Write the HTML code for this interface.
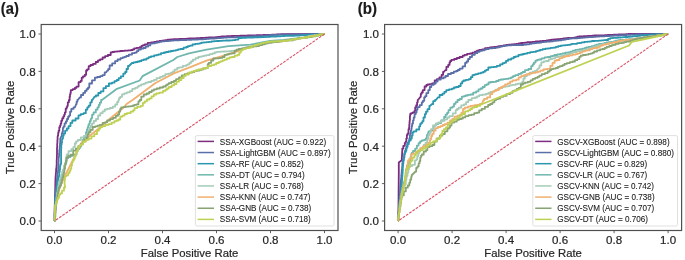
<!DOCTYPE html><html><head><meta charset="utf-8"><style>html,body{margin:0;padding:0;background:#fff;width:685px;height:260px;overflow:hidden}svg{display:block}text{font-family:"Liberation Sans",sans-serif;stroke:currentColor;stroke-width:0.2px}svg{will-change:transform}</style></head><body>
<svg width="685" height="260" viewBox="0 0 685 260">
<rect width="685" height="260" fill="#fff"/>
<polyline points="54.5,221.0 54.8,205.0 55.2,190.0 55.5,178.0 56.0,172.0 56.1,172.0 56.1,169.4 56.2,169.4 56.2,168.4 56.5,168.4 56.5,165.6 56.7,165.6 56.7,163.2 56.7,163.2 56.7,163.2 56.7,159.8 56.8,159.8 56.8,157.6 56.9,157.6 56.9,154.8 57.0,154.8 57.0,151.2 57.0,151.2 57.0,148.1 57.1,148.1 57.1,147.0 57.2,147.0 57.2,145.6 57.2,145.6 57.2,143.9 57.3,143.9 57.3,142.9 57.4,142.9 57.4,139.8 57.4,139.8 57.6,139.8 57.6,136.6 57.9,136.6 57.9,135.3 58.2,135.3 58.2,132.7 58.6,132.7 58.6,130.7 58.8,130.7 59.3,130.7 59.3,127.1 60.1,127.1 60.1,125.3 60.7,125.3 60.7,123.4 61.0,123.4 61.3,123.4 61.3,120.7 62.2,120.7 62.2,118.4 63.3,118.4 63.3,116.4 64.2,116.4 64.2,114.6 64.6,114.6 64.9,114.6 64.9,112.3 65.7,112.3 65.7,108.7 66.6,108.7 66.6,107.1 67.3,107.1 67.3,105.8 67.5,105.8 67.8,105.8 67.8,102.3 68.9,102.3 68.9,100.0 69.7,100.0 69.6,96.7 70.0,96.7 70.0,94.6 70.4,94.6 70.4,93.0 70.8,93.0 70.8,90.1 71.1,90.1 72.7,90.1 72.7,89.2 74.9,89.2 74.9,87.9 75.5,87.9 76.4,87.9 76.4,86.6 78.6,86.6 78.6,82.1 79.9,82.1 80.6,82.1 80.6,80.9 81.7,80.9 81.7,77.7 82.0,77.7 83.0,77.7 83.0,76.4 84.8,76.4 84.8,74.8 86.1,74.8 86.1,70.5 86.5,70.5 87.2,70.5 87.2,69.3 88.7,69.3 88.7,66.2 89.5,66.2 90.5,66.2 90.5,65.0 93.0,65.0 93.0,63.9 95.7,63.9 95.7,62.0 96.9,62.0 98.0,62.0 98.0,60.4 100.0,60.4 100.0,59.3 102.6,59.3 102.6,57.5 104.2,57.5 105.1,57.5 105.1,56.2 107.9,56.2 107.9,55.0 110.7,55.0 110.7,52.3 111.5,52.3 112.4,52.3 112.4,52.0 114.2,52.0 114.2,51.7 116.9,51.7 116.9,51.3 120.1,51.3 120.1,51.0 122.4,51.0 122.4,50.9 123.2,50.9 124.5,50.9 124.5,50.6 128.1,50.6 128.1,50.3 131.2,50.3 131.2,50.0 132.8,50.0 132.8,49.4 133.5,49.4 134.2,49.4 134.2,48.4 136.7,48.4 136.7,47.9 139.7,47.9 139.7,47.2 140.8,47.2 141.5,47.2 141.5,45.8 143.0,45.8 143.0,45.2 144.8,45.2 144.8,44.3 147.7,44.3 147.7,42.8 149.6,42.8 151.1,42.8 151.1,42.4 154.1,42.4 154.1,42.0 156.7,42.0 156.7,41.5 159.5,41.5 159.5,40.9 161.9,40.9 161.9,40.6 162.7,40.6 163.7,40.6 163.7,40.4 165.3,40.4 165.3,40.1 167.5,40.1 167.5,39.6 170.5,39.6 170.5,39.3 173.5,39.3 173.5,39.2 175.1,39.2 176.5,39.2 176.5,39.1 179.4,39.1 179.4,39.0 181.5,39.0 181.5,38.9 183.9,38.9 183.9,38.8 186.6,38.8 186.6,38.7 188.9,38.7 188.9,38.5 191.9,38.5 191.9,38.5 194.3,38.5 194.3,38.4 196.3,38.4 196.3,38.2 198.4,38.2 198.4,38.1 199.2,38.1 200.2,38.1 200.2,38.0 202.6,38.0 202.6,37.8 205.4,37.8 205.4,37.6 208.6,37.6 208.6,37.5 211.7,37.5 211.7,37.4 214.0,37.4 214.0,37.3 215.7,37.3 215.7,37.1 217.8,37.1 217.8,36.9 220.2,36.9 220.2,36.7 221.9,36.7 221.9,36.5 223.7,36.5 223.7,36.4 226.7,36.4 226.7,36.2 228.5,36.2 229.2,36.2 229.2,36.1 231.5,36.1 231.5,36.0 233.6,36.0 233.6,35.9 235.7,35.9 235.7,35.9 238.0,35.9 238.0,35.9 240.0,35.9 240.0,35.7 242.5,35.7 242.5,35.7 245.0,35.7 245.0,35.6 247.5,35.6 247.5,35.5 250.1,35.5 250.1,35.5 253.1,35.5 253.1,35.3 256.4,35.3 256.4,35.2 259.2,35.2 259.2,35.1 261.3,35.1 261.3,35.1 263.4,35.1 263.4,35.0 265.1,35.0 265.1,34.9 268.0,34.9 268.0,34.8 270.0,34.8 271.7,34.8 271.7,34.7 274.3,34.7 274.3,34.6 276.3,34.6 276.3,34.5 278.9,34.5 278.9,34.4 280.9,34.4 280.9,34.2 282.8,34.2 282.8,34.1 284.0,34.1 324.5,34.0" fill="none" stroke="#7b2d80" stroke-width="1.8" stroke-linejoin="round"/>
<polyline points="54.5,221.0 55.0,200.0 55.1,200.0 55.1,197.9 55.3,197.9 55.3,196.4 55.6,196.4 55.6,194.6 55.8,194.6 55.8,191.7 56.0,191.7 56.0,187.7 56.3,187.7 56.3,186.3 56.5,186.3 56.5,183.0 56.8,183.0 56.8,180.0 57.0,180.0 57.1,180.0 57.1,177.2 57.3,177.2 57.3,174.4 57.5,174.4 57.5,172.5 58.0,172.5 58.0,170.5 58.2,170.5 58.3,170.5 58.3,167.4 58.4,167.4 58.4,165.5 58.5,165.5 58.5,162.2 58.6,162.2 58.6,158.5 58.7,158.5 58.7,157.4 58.9,157.4 58.9,155.8 59.1,155.8 59.1,153.1 59.3,153.1 59.3,150.3 59.5,150.3 59.5,148.6 59.6,148.6 59.7,148.6 59.7,146.4 60.0,146.4 60.0,143.5 60.2,143.5 60.2,140.8 60.3,140.8 60.3,138.4 60.4,138.4 61.5,136.0 61.8,136.0 61.8,133.6 62.3,133.6 62.3,132.0 62.9,132.0 62.9,127.8 63.2,127.8 63.6,127.8 63.6,126.4 64.6,126.4 64.6,123.4 65.9,123.4 65.9,121.3 67.0,121.3 67.0,119.0 67.5,119.0 68.1,119.0 68.1,116.7 69.2,116.7 69.2,115.4 70.1,115.4 70.1,111.7 70.5,111.7 71.3,111.7 71.3,108.9 73.5,108.9 73.5,107.3 74.9,107.3 76.2,104.0 76.6,104.0 76.6,101.7 77.4,101.7 77.4,100.0 77.8,100.0 79.9,97.4 81.0,97.4 81.0,95.0 83.2,95.0 83.2,92.9 85.0,92.9 85.0,90.9 85.7,90.9 86.6,90.9 86.6,89.2 88.0,89.2 88.0,87.7 89.3,87.7 89.3,83.5 90.1,83.5 92.0,83.5 92.0,80.3 94.9,80.3 94.9,77.7 95.9,77.7 97.2,77.7 97.2,77.0 100.2,77.0 100.2,76.1 101.8,76.1 102.5,76.1 102.5,75.1 104.7,75.1 104.7,72.4 106.2,72.4 107.2,70.6 108.1,70.6 108.1,69.2 109.6,69.2 109.6,65.5 110.1,65.5 112.2,65.5 112.2,63.4 115.1,63.4 115.1,61.1 115.9,61.1 117.6,61.1 117.6,59.5 120.5,59.5 120.5,58.2 121.8,58.2 122.7,58.2 122.7,57.4 124.5,57.4 124.5,56.8 126.3,56.8 126.3,56.0 128.8,56.0 128.8,54.6 132.0,54.6 132.0,53.1 133.5,53.1 134.8,53.1 134.8,52.6 136.7,52.6 136.7,51.1 138.4,51.1 138.4,49.6 140.9,49.6 140.9,48.7 142.3,48.7 143.3,48.7 143.3,48.0 145.6,48.0 145.6,46.5 148.2,46.5 148.2,45.4 150.3,45.4 150.3,43.6 151.0,43.6 152.4,43.6 152.4,43.4 154.7,43.4 154.7,42.9 156.9,42.9 156.9,42.3 159.2,42.3 159.2,41.8 161.4,41.8 161.4,41.4 162.7,41.4 164.3,41.4 164.3,41.2 167.1,41.2 167.1,41.1 168.6,41.1 168.6,40.9 170.5,40.9 170.5,40.6 173.4,40.6 173.4,40.4 175.1,40.4 176.5,40.4 176.5,40.3 179.5,40.3 179.5,40.2 182.2,40.2 182.2,40.1 184.5,40.1 184.5,40.0 186.5,40.0 186.5,39.9 188.8,39.9 188.8,39.8 191.7,39.8 191.7,39.7 194.0,39.7 194.0,39.6 195.7,39.6 195.7,39.5 197.8,39.5 197.8,39.4 199.2,39.4 200.6,39.4 200.6,39.3 203.5,39.3 203.5,39.1 206.3,39.1 206.3,38.9 208.8,38.9 208.8,38.7 211.6,38.7 211.6,38.5 214.9,38.5 214.9,38.3 217.1,38.3 217.1,38.1 218.5,38.1 218.5,38.0 221.0,38.0 221.0,37.8 223.4,37.8 223.4,37.7 225.0,37.7 225.0,37.5 227.1,37.5 227.1,37.4 228.5,37.4 229.2,37.4 229.2,37.4 231.9,37.4 231.9,37.3 235.7,37.3 235.7,37.2 238.1,37.2 238.1,37.0 239.6,37.0 239.6,36.9 242.2,36.9 242.2,36.9 244.2,36.9 244.2,36.8 246.1,36.8 246.1,36.7 248.7,36.7 248.7,36.6 250.0,36.6 251.2,36.6 251.2,36.4 254.1,36.4 254.1,36.2 257.5,36.2 257.5,36.1 261.0,36.1 261.0,36.0 263.5,36.0 263.5,35.8 264.9,35.8 264.9,35.6 266.2,35.6 266.2,35.4 267.6,35.4 267.6,35.3 269.3,35.3 269.3,35.1 270.9,35.1 270.9,35.0 272.9,35.0 272.9,34.9 275.0,34.9 275.0,34.8 277.8,34.8 277.8,34.7 281.8,34.7 281.8,34.6 284.0,34.6 285.0,34.6 285.0,34.6 287.6,34.6 287.6,34.5 290.2,34.5 290.2,34.5 291.7,34.5 291.7,34.5 293.6,34.5 293.6,34.4 295.8,34.4 295.8,34.4 297.5,34.4 297.5,34.4 300.0,34.4 300.0,34.3 303.1,34.3 303.1,34.3 305.2,34.3 305.2,34.3 307.8,34.3 307.8,34.2 311.5,34.2 311.5,34.2 313.9,34.2 313.9,34.1 315.7,34.1 315.7,34.1 318.2,34.1 318.2,34.1 321.2,34.1 321.2,34.0 323.8,34.0 323.8,34.0 324.5,34.0" fill="none" stroke="#5a6fa8" stroke-width="1.8" stroke-linejoin="round"/>
<polyline points="54.5,221.0 54.6,221.0 54.6,217.7 54.7,217.7 54.7,215.6 54.7,215.6 54.7,213.9 54.8,213.9 54.8,212.1 54.9,212.1 54.9,210.2 55.0,210.2 55.0,207.0 55.2,207.0 55.2,205.1 55.3,205.1 55.3,201.7 55.4,201.7 55.4,200.0 55.5,200.0 55.7,200.0 55.7,196.7 55.9,196.7 55.9,194.9 56.1,194.9 56.1,192.0 56.5,192.0 56.5,189.5 56.8,189.5 56.8,187.2 57.2,187.2 57.2,184.7 57.5,184.7 57.5,181.5 57.8,181.5 57.8,180.0 58.0,180.0 58.4,180.0 58.4,176.8 59.0,176.8 59.0,175.4 59.3,175.4 59.3,172.0 59.6,172.0 59.7,172.0 59.7,169.7 60.0,169.7 60.0,166.1 60.4,166.1 60.4,164.3 60.9,164.3 60.9,163.2 61.1,163.2 61.1,148.6 61.3,148.6 61.3,144.3 61.7,144.3 61.7,142.8 62.0,142.8 62.0,139.6 62.3,139.6 62.3,138.4 62.5,138.4 63.0,138.4 63.0,135.7 63.7,135.7 63.7,133.6 63.9,133.6 65.1,133.6 65.1,130.7 66.9,130.7 66.9,128.5 67.5,128.5 68.6,128.5 68.6,126.1 70.5,126.1 70.5,122.9 72.3,122.9 72.3,120.5 73.4,120.5 75.6,120.5 75.6,118.5 78.5,118.5 78.5,115.4 79.2,115.4 80.7,115.4 80.7,114.1 83.6,114.1 83.6,113.2 85.1,113.2 85.8,113.2 85.8,109.7 87.3,109.7 87.3,107.3 88.0,107.3 88.7,107.3 88.7,105.6 90.3,105.6 90.3,102.3 91.8,102.3 91.8,100.0 92.4,100.0 94.5,96.7 95.9,96.7 95.9,95.5 98.3,95.5 98.3,93.0 100.7,93.0 100.7,91.4 103.4,91.4 103.4,88.2 104.6,88.2 105.9,88.2 105.9,86.2 108.9,86.2 108.9,83.5 110.6,83.5 112.0,83.5 112.0,82.7 114.5,82.7 114.5,81.1 116.8,81.1 116.8,80.0 118.7,80.0 118.7,78.2 119.3,78.2 120.8,78.2 120.8,76.3 123.3,76.3 123.3,73.6 125.2,73.6 125.2,72.0 126.0,72.0 126.5,72.0 126.5,69.0 128.0,69.0 128.0,66.0 129.0,66.0 132.0,63.0 133.6,63.0 133.6,62.4 135.8,62.4 135.8,62.0 136.4,62.0 137.7,62.0 137.7,61.5 139.7,61.5 139.7,61.0 141.5,61.0 141.5,60.1 143.8,60.1 143.8,59.5 146.5,59.5 146.5,58.3 148.1,58.3 148.7,58.3 148.7,57.2 150.9,57.2 150.9,56.4 154.1,56.4 154.1,55.4 156.7,55.4 156.7,54.9 158.6,54.9 158.6,54.4 161.0,54.4 161.0,53.2 162.7,53.2 164.0,53.2 164.0,52.5 166.1,52.5 166.1,52.0 168.4,52.0 168.4,51.5 170.0,51.5 170.9,51.5 170.9,51.0 173.1,51.0 173.1,50.7 175.7,50.7 175.7,50.1 178.0,50.1 178.0,49.3 180.4,49.3 180.4,49.0 181.7,49.0 183.6,49.0 183.6,47.7 186.2,47.7 186.2,47.0 187.9,47.0 187.9,46.1 189.0,46.1 189.9,46.1 189.9,45.7 192.5,45.7 192.5,44.4 195.2,44.4 195.2,43.9 196.3,43.9 197.9,43.9 197.9,43.6 200.1,43.6 200.1,43.2 201.5,43.2 201.5,42.7 203.7,42.7 203.7,42.4 205.1,42.4 206.2,42.4 206.2,42.2 208.8,42.2 208.8,41.9 211.5,41.9 211.5,41.4 214.0,41.4 214.0,41.2 216.7,41.2 216.7,41.0 218.2,41.0 219.4,41.0 219.4,40.9 221.9,40.9 221.9,40.7 224.2,40.7 224.2,40.6 225.8,40.6 225.8,40.5 227.7,40.5 227.7,40.5 230.2,40.5 230.2,40.3 232.8,40.3 232.8,40.2 234.3,40.2 235.4,40.2 235.4,39.6 238.4,39.6 238.4,38.0 240.2,38.0 241.7,38.0 241.7,37.9 244.1,37.9 244.1,37.8 246.3,37.8 246.3,37.7 249.3,37.7 249.3,37.6 251.5,37.6 251.5,37.5 253.9,37.5 253.9,37.4 256.7,37.4 256.7,37.3 257.7,37.3 269.2,36.8 270.6,36.8 270.6,36.7 272.6,36.7 272.6,36.6 274.4,36.6 274.4,36.5 276.6,36.5 276.6,36.4 278.4,36.4 278.4,36.3 280.7,36.3 280.7,36.2 283.1,36.2 283.1,36.0 284.6,36.0 284.6,35.9 287.1,35.9 287.1,35.9 290.9,35.9 290.9,35.8 294.7,35.8 294.7,35.7 297.5,35.7 297.5,35.6 298.5,35.6 299.7,35.6 299.7,35.4 301.8,35.4 301.8,35.2 303.4,35.2 303.4,35.0 306.1,35.0 306.1,34.9 308.6,34.9 308.6,34.7 310.1,34.7 310.1,34.7 312.3,34.7 312.3,34.6 315.3,34.6 315.3,34.4 318.6,34.4 318.6,34.3 320.8,34.3 320.8,34.1 323.0,34.1 323.0,34.0 324.5,34.0" fill="none" stroke="#2b97ae" stroke-width="1.8" stroke-linejoin="round"/>
<polyline points="54.5,221.0 54.6,221.0 54.6,219.7 54.7,219.7 54.7,216.2 54.8,216.2 54.8,215.0 55.0,215.0 55.0,214.0 55.1,214.0 55.1,211.2 55.2,211.2 55.2,208.6 55.4,208.6 55.4,205.0 55.5,205.0 55.7,205.0 55.7,204.0 56.1,204.0 56.1,201.7 56.5,201.7 56.5,198.1 56.8,198.1 56.8,195.0 57.0,195.0 57.4,195.0 57.4,192.1 58.0,192.1 58.0,191.0 58.5,191.0 58.5,188.3 58.8,188.3 58.8,185.0 59.0,185.0 59.2,185.0 59.2,183.5 59.9,183.5 59.9,180.3 60.7,180.3 60.7,177.6 61.5,177.6 61.5,176.0 62.0,176.0 62.3,176.0 62.3,174.4 62.8,174.4 62.8,172.4 63.3,172.4 63.3,170.1 63.8,170.1 63.8,167.6 64.0,167.6 64.3,167.6 64.3,165.6 65.1,165.6 65.1,164.2 65.9,164.2 65.9,162.3 66.5,162.3 66.5,158.1 66.9,158.1 68.3,158.1 68.3,157.0 70.5,157.0 70.5,155.9 71.3,155.9 72.5,155.9 72.5,155.4 74.7,155.4 74.7,154.5 75.7,154.5 76.6,154.5 76.6,151.0 77.9,151.0 77.9,149.0 79.2,149.0 79.2,147.8 80.4,147.8 80.4,145.9 81.4,145.9 81.4,143.5 82.7,143.5 82.7,140.0 83.3,140.0 83.8,140.0 83.8,138.2 85.0,138.2 85.0,136.3 86.0,136.3 86.0,132.2 86.5,132.2 86.9,132.2 86.9,129.4 87.7,129.4 87.7,127.1 88.4,127.1 88.4,124.8 89.2,124.8 89.2,123.4 89.5,123.4 89.8,123.4 89.8,121.1 90.8,121.1 90.8,118.8 91.6,118.8 91.6,117.8 92.1,117.8 92.1,114.6 92.4,114.6 93.6,114.6 93.6,112.4 95.8,112.4 95.8,109.7 97.5,109.7 97.5,107.3 98.2,107.3 98.8,107.3 98.8,105.0 99.8,105.0 99.8,102.7 101.1,102.7 101.1,100.0 101.9,100.0 104.6,98.0 116.3,89.2 139.7,80.5 142.6,76.1 173.3,60.0 177.3,57.0 189.0,53.4 206.5,49.7 228.5,46.1 250.4,44.6 270.1,41.0 283.9,40.0 305.8,37.5 324.5,34.0" fill="none" stroke="#6fb7ae" stroke-width="1.8" stroke-linejoin="round"/>
<polyline points="54.5,221.0 54.6,221.0 54.6,219.7 54.7,219.7 54.7,216.2 54.8,216.2 54.8,215.0 55.0,215.0 55.0,214.0 55.1,214.0 55.1,211.2 55.2,211.2 55.2,208.6 55.4,208.6 55.4,205.0 55.5,205.0 55.7,205.0 55.7,204.0 56.1,204.0 56.1,201.5 56.5,201.5 56.5,197.7 56.9,197.7 56.9,194.4 57.2,194.4 57.2,192.6 57.7,192.6 57.7,190.0 58.0,190.0 58.2,190.0 58.2,186.2 58.7,186.2 58.7,183.4 59.3,183.4 59.3,181.5 59.8,181.5 59.8,180.0 60.0,180.0 60.5,180.0 60.5,178.1 61.3,178.1 61.3,174.7 62.1,174.7 62.1,172.0 62.5,172.0 63.1,172.0 63.1,169.5 64.0,169.5 64.0,166.6 64.7,166.6 64.7,164.7 65.3,164.7 65.3,163.2 65.5,163.2 65.6,163.2 65.6,161.6 65.8,161.6 65.8,158.2 66.2,158.2 66.2,156.8 66.7,156.8 66.7,154.5 66.9,154.5 68.5,154.5 68.5,151.1 71.3,151.1 71.3,149.2 73.3,149.2 73.3,147.2 74.2,147.2 74.8,147.2 74.8,143.5 76.1,143.5 76.1,141.3 77.9,141.3 77.9,140.0 79.0,140.0 80.9,140.0 80.9,137.4 83.9,137.4 83.9,136.0 85.0,136.0 88.0,134.0 88.6,134.0 88.6,130.8 89.8,130.8 89.8,127.6 90.9,127.6 90.9,125.6 92.0,125.6 92.0,123.4 92.4,123.4 93.8,123.4 93.8,121.0 96.0,121.0 96.0,119.0 96.8,119.0 98.1,119.0 98.1,115.5 100.3,115.5 100.3,113.2 101.2,113.2 102.6,113.2 102.6,111.4 104.7,111.4 104.7,109.5 107.0,109.5 107.0,108.8 108.5,108.8 110.0,108.8 110.0,108.0 112.8,108.0 112.8,106.7 115.2,106.7 115.2,104.5 117.2,104.5 117.2,102.0 118.0,102.0 118.4,102.0 118.4,100.1 119.0,100.1 119.0,98.2 119.3,98.2 120.2,98.2 120.2,96.8 122.0,96.8 122.0,94.3 124.3,94.3 124.3,93.3 126.8,93.3 126.8,92.3 128.1,92.3 129.8,92.3 129.8,91.1 132.3,91.1 132.3,88.8 135.1,88.8 135.1,87.8 137.5,87.8 137.5,86.6 138.9,86.6 138.9,85.6 141.2,85.6 141.2,84.3 142.7,84.3 143.9,84.3 143.9,83.6 145.8,83.6 145.8,82.6 148.1,82.6 148.1,82.0 151.2,82.0 151.2,80.9 153.9,80.9 153.9,79.9 155.1,79.9 156.6,79.9 156.6,78.1 160.1,78.1 160.1,76.8 162.8,76.8 162.8,75.8 165.3,75.8 165.3,74.1 168.4,74.1 168.4,73.6 171.1,73.6 171.1,72.7 173.0,72.7 173.0,71.3 174.6,71.3 174.6,69.6 177.2,69.6 177.2,67.8 179.4,67.8 179.4,67.3 180.2,67.3 182.8,67.3 182.8,65.9 186.1,65.9 186.1,65.1 187.7,65.1 187.7,64.3 189.4,64.3 189.4,62.9 191.0,62.9 191.0,61.4 191.9,61.4 192.9,61.4 192.9,59.6 195.6,59.6 195.6,58.2 198.2,58.2 198.2,57.0 199.2,57.0 200.0,57.0 200.0,56.6 202.2,56.6 202.2,56.1 204.1,56.1 204.1,55.7 206.4,55.7 206.4,55.1 209.6,55.1 209.6,54.1 212.6,54.1 212.6,53.4 213.9,53.4 214.8,53.4 214.8,52.3 216.9,52.3 216.9,51.9 218.2,51.9 220.0,51.9 220.0,51.7 223.0,51.7 223.0,51.5 225.9,51.5 225.9,51.3 228.7,51.3 228.7,51.1 231.6,51.1 231.6,50.9 233.8,50.9 233.8,50.7 235.0,50.7 235.0,50.5 235.8,50.5 237.3,50.5 237.3,49.8 239.4,49.8 239.4,49.5 241.3,49.5 241.3,48.7 243.8,48.7 243.8,48.0 246.3,48.0 246.3,47.4 249.1,47.4 249.1,46.8 250.4,46.8 251.3,46.8 251.3,46.1 253.5,46.1 253.5,45.8 256.1,45.8 256.1,45.5 258.4,45.5 258.4,44.9 260.6,44.9 260.6,44.4 262.7,44.4 262.7,44.0 265.3,44.0 265.3,43.4 268.4,43.4 268.4,43.2 270.1,43.2 271.4,43.2 271.4,42.7 273.1,42.7 273.1,42.2 275.0,42.2 275.0,42.0 277.8,42.0 277.8,41.6 280.4,41.6 280.4,41.2 282.7,41.2 282.7,41.0 283.9,41.0 285.9,41.0 285.9,40.7 289.7,40.7 289.7,40.5 293.1,40.5 293.1,39.9 295.3,39.9 295.3,39.3 296.7,39.3 296.7,38.7 298.4,38.7 298.4,38.4 301.1,38.4 301.1,38.2 303.7,38.2 303.7,37.7 305.2,37.7 305.2,37.5 305.8,37.5 306.7,37.5 306.7,36.9 308.8,36.9 308.8,36.2 311.8,36.2 311.8,35.5 314.5,35.5 314.5,35.2 316.6,35.2 316.6,35.0 318.8,35.0 318.8,34.5 321.0,34.5 321.0,34.2 323.3,34.2 323.3,34.0 324.5,34.0" fill="none" stroke="#a6cbb8" stroke-width="1.8" stroke-linejoin="round"/>
<polyline points="54.5,221.0 56.0,205.0 59.0,190.0 63.0,180.0 66.9,172.0 74.2,157.4 81.5,142.8 89.5,136.0 99.7,127.8 111.4,117.5 123.1,108.0 126.6,104.0 132.6,100.0 155.1,83.2 173.9,73.4 189.0,67.6 206.5,60.7 221.2,56.3 235.8,51.9 250.4,46.8 270.1,42.4 283.9,41.0 305.8,37.5 324.5,34.0" fill="none" stroke="#f0b070" stroke-width="1.8" stroke-linejoin="round"/>
<polyline points="54.5,221.0 54.6,221.0 54.6,220.0 54.9,220.0 54.9,218.3 55.2,218.3 55.2,216.6 55.4,216.6 55.4,213.1 55.6,213.1 55.6,209.7 55.8,209.7 55.8,206.2 55.9,206.2 55.9,205.0 56.0,205.0 56.3,205.0 56.3,201.9 56.8,201.9 56.8,199.4 57.2,199.4 57.2,197.7 57.5,197.7 57.5,194.7 58.0,194.7 58.0,192.0 58.4,192.0 58.4,190.0 58.5,190.0 58.9,190.0 58.9,187.4 60.0,187.4 60.0,185.6 61.0,185.6 61.0,183.1 61.7,183.1 61.7,180.0 62.0,180.0 62.4,180.0 62.4,177.3 63.3,177.3 63.3,174.5 63.9,174.5 63.9,172.6 64.3,172.6 64.3,170.0 64.5,170.0 64.6,170.0 64.6,168.8 65.0,168.8 65.0,165.8 65.3,165.8 65.3,163.2 65.5,163.2 66.0,163.2 66.0,160.4 66.7,160.4 66.7,157.4 66.9,157.4 68.2,157.4 68.2,156.0 70.7,156.0 70.7,154.7 73.2,154.7 73.2,150.7 75.9,150.7 75.9,148.6 77.2,148.6 78.2,148.6 78.2,146.2 80.7,146.2 80.7,144.1 82.9,144.1 82.9,141.7 84.7,141.7 84.7,139.8 85.9,139.8 86.7,139.8 86.7,137.6 87.7,137.6 87.7,134.3 88.7,134.3 88.7,132.2 89.5,132.2 90.5,132.2 90.5,129.9 92.7,129.9 92.7,127.0 93.9,127.0 95.2,127.0 95.2,126.4 97.5,126.4 97.5,125.6 99.8,125.6 99.8,124.9 101.2,124.9 102.6,124.9 102.6,122.9 104.9,122.9 104.9,122.3 107.1,122.3 107.1,120.5 108.5,120.5 110.0,120.5 110.0,119.1 113.0,119.1 113.0,117.8 115.8,117.8 115.8,115.9 117.8,115.9 117.8,114.6 118.7,114.6 119.1,114.6 119.1,111.7 120.2,111.7 120.2,108.9 121.2,108.9 121.2,107.3 121.6,107.3 123.1,107.3 123.1,107.1 125.7,107.1 125.7,106.7 128.4,106.7 128.4,106.4 131.0,106.4 131.0,106.1 133.0,106.1 133.0,105.5 134.5,105.5 134.5,104.8 136.5,104.8 136.5,104.4 137.7,104.4 138.4,104.4 138.4,101.4 139.8,101.4 139.8,100.0 140.6,100.0 141.3,100.0 141.3,96.6 143.8,96.6 143.8,94.5 145.6,94.5 146.7,94.5 146.7,93.5 149.2,93.5 149.2,92.0 151.7,92.0 151.7,90.5 154.0,90.5 154.0,89.4 155.1,89.4 156.7,89.4 156.7,88.5 159.8,88.5 159.8,87.5 163.1,87.5 163.1,86.5 165.7,86.5 165.7,85.3 167.0,85.3 167.0,84.3 168.7,84.3 168.7,83.2 171.3,83.2 171.3,82.0 173.9,82.0 173.9,81.0 175.0,81.0 176.1,81.0 176.1,79.1 179.0,79.1 179.0,77.5 181.8,77.5 181.8,75.5 183.0,75.5 184.7,75.5 184.7,74.1 187.3,74.1 187.3,73.4 189.2,73.4 189.2,72.7 192.0,72.7 192.0,72.2 194.3,72.2 194.3,71.0 195.0,71.0 196.9,71.0 196.9,70.6 199.7,70.6 199.7,69.9 201.3,69.9 201.3,69.5 203.0,69.5 203.0,68.5 205.7,68.5 205.7,68.0 207.3,68.0 207.7,68.0 207.7,64.2 208.8,64.2 208.8,62.9 209.5,62.9 211.1,62.9 211.1,60.5 213.3,60.5 213.3,58.5 213.9,58.5 215.6,58.5 215.6,58.3 218.5,58.3 218.5,58.1 220.5,58.1 220.5,57.8 221.2,57.8 222.4,57.8 222.4,57.0 224.6,57.0 224.6,54.9 225.6,54.9 226.9,54.9 226.9,54.3 229.2,54.3 229.2,53.7 231.6,53.7 231.6,53.4 232.9,53.4 234.5,53.4 234.5,50.9 236.6,50.9 236.6,49.7 238.7,49.7 238.7,49.0 240.2,49.0 242.0,49.0 242.0,48.4 245.1,48.4 245.1,47.7 246.9,47.7 246.9,47.4 248.2,47.4 248.2,47.1 250.6,47.1 250.6,46.9 253.3,46.9 253.3,46.4 256.1,46.4 256.1,46.1 257.7,46.1 259.1,46.1 259.1,45.2 261.9,45.2 261.9,44.4 264.3,44.4 264.3,43.7 266.5,43.7 266.5,42.8 269.0,42.8 269.0,42.4 270.1,42.4 271.1,42.4 271.1,42.1 273.7,42.1 273.7,42.0 275.9,42.0 275.9,41.9 277.6,41.9 277.6,41.6 279.9,41.6 279.9,41.3 282.6,41.3 282.6,41.0 283.9,41.0 285.1,41.0 285.1,40.4 287.7,40.4 287.7,40.2 290.2,40.2 290.2,39.6 293.3,39.6 293.3,39.2 296.1,39.2 296.1,38.8 297.6,38.8 297.6,38.3 299.0,38.3 299.0,38.2 301.7,38.2 301.7,37.8 304.7,37.8 304.7,37.5 305.8,37.5 307.3,37.5 307.3,37.3 309.7,37.3 309.7,37.1 311.2,37.1 311.2,36.6 312.9,36.6 312.9,36.3 315.5,36.3 315.5,35.7 318.3,35.7 318.3,35.0 320.9,35.0 320.9,34.5 323.2,34.5 323.2,34.0 324.5,34.0" fill="none" stroke="#88a472" stroke-width="1.8" stroke-linejoin="round"/>
<polyline points="54.5,221.0 54.5,221.0 54.5,218.9 54.6,218.9 54.6,217.4 54.7,217.4 54.7,215.9 54.8,215.9 54.8,212.5 55.0,212.5 55.0,209.2 55.1,209.2 55.1,205.5 55.2,205.5 55.9,205.5 55.9,202.2 57.1,202.2 57.1,199.7 57.5,199.7 57.8,199.7 57.8,197.8 59.0,197.8 59.0,194.6 60.4,194.6 60.4,193.4 61.0,193.4 62.0,193.4 62.0,190.7 64.0,190.7 64.0,187.5 65.1,187.5 64.5,182.9 65.1,177.0 67.5,175.3 68.2,175.3 68.2,173.0 69.5,173.0 69.5,171.0 70.0,171.0 70.4,171.0 70.4,168.8 71.3,168.8 71.3,165.4 72.0,165.4 72.0,162.3 72.8,162.3 72.8,160.6 73.8,160.6 73.8,158.9 74.2,158.9 74.7,158.9 74.7,156.4 75.7,156.4 75.7,153.4 76.4,153.4 76.4,151.6 77.1,151.6 77.1,150.3 78.2,150.3 78.2,146.9 79.5,146.9 79.5,145.7 80.1,145.7 80.9,145.7 80.9,144.4 83.1,144.4 83.1,141.5 86.0,141.5 86.0,139.8 87.4,139.8 88.7,139.8 88.7,138.7 91.4,138.7 91.4,136.3 92.8,136.3 94.3,136.3 94.3,134.2 97.0,134.2 97.0,130.7 98.2,130.7 98.9,130.7 98.9,128.5 100.4,128.5 100.4,127.1 102.4,127.1 102.4,126.1 105.3,126.1 105.3,124.9 107.0,124.9 108.6,124.9 108.6,124.2 111.6,124.2 111.6,122.7 114.5,122.7 114.5,121.1 116.6,121.1 116.6,120.5 117.3,120.5 118.5,120.5 118.5,119.5 120.3,119.5 120.3,116.6 122.5,116.6 122.5,115.6 124.6,115.6 124.6,114.0 127.0,114.0 127.0,113.2 128.9,113.2 130.6,113.2 130.6,111.7 133.0,111.7 133.0,110.4 134.5,110.4 134.5,108.1 137.2,108.1 137.2,106.8 140.7,106.8 140.7,105.8 142.1,105.8 142.9,105.8 142.9,102.9 144.7,102.9 144.7,101.3 147.0,101.3 147.0,99.5 148.3,99.5 149.5,99.5 149.5,98.4 151.6,98.4 151.6,96.3 153.9,96.3 153.9,94.5 155.1,94.5 156.3,94.5 156.3,93.3 159.4,93.3 159.4,92.6 163.0,92.6 163.0,90.9 165.5,90.9 165.5,89.7 167.0,89.7 167.0,88.5 168.9,88.5 168.9,87.0 171.7,87.0 171.7,85.3 174.2,85.3 174.2,84.0 175.0,84.0 176.5,84.0 176.5,81.7 178.9,81.7 178.9,80.1 181.4,80.1 181.4,78.0 183.0,78.0 183.7,78.0 183.7,75.8 185.8,75.8 185.8,74.5 188.8,74.5 188.8,72.6 191.6,72.6 191.6,71.7 193.9,71.7 193.9,71.0 195.0,71.0 195.9,71.0 195.9,70.2 198.4,70.2 198.4,69.5 200.7,69.5 200.7,69.2 202.8,69.2 202.8,68.4 205.3,68.4 205.3,68.0 206.5,68.0 208.0,68.0 208.0,66.0 211.3,66.0 211.3,65.2 214.0,65.2 214.0,64.4 216.2,64.4 216.2,63.0 218.7,63.0 218.7,62.1 220.5,62.1 220.5,61.4 221.2,61.4 222.6,61.4 222.6,60.3 224.7,60.3 224.7,59.6 226.9,59.6 226.9,58.5 229.5,58.5 229.5,57.4 231.9,57.4 231.9,57.0 234.7,57.0 234.7,55.7 237.4,55.7 237.4,54.9 238.7,54.9 239.3,54.9 239.3,52.6 240.8,52.6 240.8,50.5 241.6,50.5 242.1,50.5 242.1,49.6 243.8,49.6 243.8,48.6 246.4,48.6 246.4,48.2 249.1,48.2 249.1,47.5 250.4,47.5 251.8,47.5 251.8,45.8 254.9,45.8 254.9,45.1 257.2,45.1 257.2,44.6 257.7,44.6 258.6,44.6 258.6,43.8 261.2,43.8 261.2,43.1 264.0,43.1 264.0,42.6 266.6,42.6 266.6,42.0 269.1,42.0 269.1,41.7 270.1,41.7 271.6,41.7 271.6,41.5 273.7,41.5 273.7,41.5 275.2,41.5 275.2,41.3 277.5,41.3 277.5,41.2 280.6,41.2 280.6,41.1 283.1,41.1 283.1,41.0 283.9,41.0 285.4,41.0 285.4,40.6 288.4,40.6 288.4,40.1 291.4,40.1 291.4,39.7 293.6,39.7 293.6,39.1 295.3,39.1 295.3,38.9 297.7,38.9 297.7,38.6 300.2,38.6 300.2,38.2 302.3,38.2 302.3,38.0 304.4,38.0 304.4,37.5 305.8,37.5 306.8,37.5 306.8,37.2 308.6,37.2 308.6,36.7 310.6,36.7 310.6,36.4 313.5,36.4 313.5,35.9 316.8,35.9 316.8,35.1 319.1,35.1 319.1,34.7 320.8,34.7 320.8,34.5 323.2,34.5 323.2,34.0 324.5,34.0" fill="none" stroke="#bfd153" stroke-width="1.8" stroke-linejoin="round"/>
<line x1="54.5" y1="221.0" x2="324.5" y2="34.0" stroke="#d95468" stroke-width="1.1" stroke-dasharray="2.8 1.15" stroke-dashoffset="2.25"/>
<rect x="195.4" y="135.6" width="138.6" height="90.4" rx="1.6" ry="1.6" fill="#fff" fill-opacity="0.85" stroke="#dcdcdc" stroke-width="0.9"/>
<line x1="197.6" y1="141.40" x2="214.0" y2="141.40" stroke="#7b2d80" stroke-width="1.5"/>
<text x="219.8" y="144.50" font-size="9.0" fill="#222" color="#222" style="stroke-width:0.1px" textLength="106.40" lengthAdjust="spacingAndGlyphs">SSA-XGBoost (AUC = 0.922)</text>
<line x1="197.6" y1="152.54" x2="214.0" y2="152.54" stroke="#5a6fa8" stroke-width="1.5"/>
<text x="219.8" y="155.64" font-size="9.0" fill="#222" color="#222" style="stroke-width:0.1px" textLength="110.83" lengthAdjust="spacingAndGlyphs">SSA-LightGBM (AUC = 0.897)</text>
<line x1="197.6" y1="163.68" x2="214.0" y2="163.68" stroke="#2b97ae" stroke-width="1.5"/>
<text x="219.8" y="166.78" font-size="9.0" fill="#222" color="#222" style="stroke-width:0.1px" textLength="84.03" lengthAdjust="spacingAndGlyphs">SSA-RF (AUC = 0.852)</text>
<line x1="197.6" y1="174.82" x2="214.0" y2="174.82" stroke="#6fb7ae" stroke-width="1.5"/>
<text x="219.8" y="177.92" font-size="9.0" fill="#222" color="#222" style="stroke-width:0.1px" textLength="84.87" lengthAdjust="spacingAndGlyphs">SSA-DT (AUC = 0.794)</text>
<line x1="197.6" y1="185.96" x2="214.0" y2="185.96" stroke="#a6cbb8" stroke-width="1.5"/>
<text x="219.8" y="189.06" font-size="9.0" fill="#222" color="#222" style="stroke-width:0.1px" textLength="83.89" lengthAdjust="spacingAndGlyphs">SSA-LR (AUC = 0.768)</text>
<line x1="197.6" y1="197.10" x2="214.0" y2="197.10" stroke="#f0b070" stroke-width="1.5"/>
<text x="219.8" y="200.20" font-size="9.0" fill="#222" color="#222" style="stroke-width:0.1px" textLength="90.69" lengthAdjust="spacingAndGlyphs">SSA-KNN (AUC = 0.747)</text>
<line x1="197.6" y1="208.24" x2="214.0" y2="208.24" stroke="#88a472" stroke-width="1.5"/>
<text x="219.8" y="211.34" font-size="9.0" fill="#222" color="#222" style="stroke-width:0.1px" textLength="91.40" lengthAdjust="spacingAndGlyphs">SSA-GNB (AUC = 0.738)</text>
<line x1="197.6" y1="219.38" x2="214.0" y2="219.38" stroke="#bfd153" stroke-width="1.5"/>
<text x="219.8" y="222.48" font-size="9.0" fill="#222" color="#222" style="stroke-width:0.1px" textLength="90.91" lengthAdjust="spacingAndGlyphs">SSA-SVM (AUC = 0.718)</text>
<rect x="41.2" y="24.5" width="296.8" height="206.0" fill="none" stroke="#505050" stroke-width="1.2"/>
<line x1="54.50" y1="230.5" x2="54.50" y2="233.2" stroke="#505050" stroke-width="0.9"/>
<line x1="41.2" y1="221.00" x2="38.5" y2="221.00" stroke="#505050" stroke-width="0.9"/>
<text x="54.50" y="243.6" font-size="10.7" fill="#262626" color="#262626" text-anchor="middle" textLength="16.06" lengthAdjust="spacingAndGlyphs">0.0</text>
<text x="35.60" y="225.40" font-size="10.7" fill="#262626" color="#262626" text-anchor="end" textLength="16.06" lengthAdjust="spacingAndGlyphs">0.0</text>
<line x1="108.50" y1="230.5" x2="108.50" y2="233.2" stroke="#505050" stroke-width="0.9"/>
<line x1="41.2" y1="183.60" x2="38.5" y2="183.60" stroke="#505050" stroke-width="0.9"/>
<text x="108.50" y="243.6" font-size="10.7" fill="#262626" color="#262626" text-anchor="middle" textLength="16.06" lengthAdjust="spacingAndGlyphs">0.2</text>
<text x="35.60" y="188.00" font-size="10.7" fill="#262626" color="#262626" text-anchor="end" textLength="16.06" lengthAdjust="spacingAndGlyphs">0.2</text>
<line x1="162.50" y1="230.5" x2="162.50" y2="233.2" stroke="#505050" stroke-width="0.9"/>
<line x1="41.2" y1="146.20" x2="38.5" y2="146.20" stroke="#505050" stroke-width="0.9"/>
<text x="162.50" y="243.6" font-size="10.7" fill="#262626" color="#262626" text-anchor="middle" textLength="16.06" lengthAdjust="spacingAndGlyphs">0.4</text>
<text x="35.60" y="150.60" font-size="10.7" fill="#262626" color="#262626" text-anchor="end" textLength="16.06" lengthAdjust="spacingAndGlyphs">0.4</text>
<line x1="216.50" y1="230.5" x2="216.50" y2="233.2" stroke="#505050" stroke-width="0.9"/>
<line x1="41.2" y1="108.80" x2="38.5" y2="108.80" stroke="#505050" stroke-width="0.9"/>
<text x="216.50" y="243.6" font-size="10.7" fill="#262626" color="#262626" text-anchor="middle" textLength="16.06" lengthAdjust="spacingAndGlyphs">0.6</text>
<text x="35.60" y="113.20" font-size="10.7" fill="#262626" color="#262626" text-anchor="end" textLength="16.06" lengthAdjust="spacingAndGlyphs">0.6</text>
<line x1="270.50" y1="230.5" x2="270.50" y2="233.2" stroke="#505050" stroke-width="0.9"/>
<line x1="41.2" y1="71.40" x2="38.5" y2="71.40" stroke="#505050" stroke-width="0.9"/>
<text x="270.50" y="243.6" font-size="10.7" fill="#262626" color="#262626" text-anchor="middle" textLength="16.06" lengthAdjust="spacingAndGlyphs">0.8</text>
<text x="35.60" y="75.80" font-size="10.7" fill="#262626" color="#262626" text-anchor="end" textLength="16.06" lengthAdjust="spacingAndGlyphs">0.8</text>
<line x1="324.50" y1="230.5" x2="324.50" y2="233.2" stroke="#505050" stroke-width="0.9"/>
<line x1="41.2" y1="34.00" x2="38.5" y2="34.00" stroke="#505050" stroke-width="0.9"/>
<text x="324.50" y="243.6" font-size="10.7" fill="#262626" color="#262626" text-anchor="middle" textLength="16.06" lengthAdjust="spacingAndGlyphs">1.0</text>
<text x="35.60" y="38.40" font-size="10.7" fill="#262626" color="#262626" text-anchor="end" textLength="16.06" lengthAdjust="spacingAndGlyphs">1.0</text>
<text x="189.60" y="257.0" font-size="11.1" fill="#262626" color="#262626" text-anchor="middle" textLength="97.59" lengthAdjust="spacingAndGlyphs">False Positive Rate</text>
<text transform="translate(13.60,127.50) rotate(-90)" x="0" y="0" font-size="11.1" fill="#262626" color="#262626" text-anchor="middle" textLength="93.53" lengthAdjust="spacingAndGlyphs">True Positive Rate</text>
<text x="0.8" y="14.1" font-size="16.5" font-weight="bold" fill="#1a1a1a" color="#1a1a1a" textLength="18.0" lengthAdjust="spacingAndGlyphs">(a)</text>
<polyline points="398.1,221.0 398.5,205.0 398.8,172.0 398.8,162.5 401.7,160.3 401.8,160.3 401.8,156.8 402.0,156.8 402.0,154.4 402.1,154.4 402.1,152.8 402.2,152.8 402.2,151.1 402.3,151.1 402.3,148.6 402.4,148.6 403.3,148.6 403.3,145.8 404.8,145.8 404.8,142.8 405.4,142.8 405.7,142.8 405.7,141.6 406.3,141.6 406.3,138.4 406.9,138.4 406.9,135.0 407.2,135.0 407.6,135.0 407.6,133.5 408.5,133.5 408.5,129.2 408.9,129.2 409.1,129.2 409.1,126.8 409.3,126.8 409.3,124.4 409.5,124.4 409.5,121.9 409.6,121.9 409.7,121.9 409.7,120.1 409.9,120.1 409.9,116.1 410.2,116.1 410.2,113.9 410.4,113.9 411.1,113.9 411.1,113.1 412.9,113.1 412.9,112.4 414.0,112.4 414.5,112.4 414.5,110.8 415.2,110.8 415.2,107.3 415.5,107.3 416.2,107.3 416.2,105.2 417.1,105.2 417.1,102.3 417.7,102.3 417.7,100.0 418.0,100.0 420.5,96.7 420.8,96.7 420.8,93.8 421.6,93.8 421.6,92.5 422.8,92.5 422.8,90.1 423.4,90.1 424.6,90.1 424.6,86.5 426.4,86.5 426.4,85.0 427.0,85.0 427.7,85.0 427.7,84.5 429.5,84.5 429.5,84.1 432.1,84.1 432.1,83.5 433.6,83.5 434.7,83.5 434.7,80.5 436.9,80.5 436.9,79.2 438.0,79.2 439.4,79.2 439.4,77.3 441.6,77.3 441.6,74.8 443.1,74.8 443.1,71.8 443.9,71.8 445.5,70.0 446.4,70.0 446.4,66.9 448.2,66.9 448.2,64.9 449.1,64.9 449.5,64.9 449.5,62.4 450.2,62.4 450.2,61.0 450.5,61.0 451.4,61.0 451.4,59.9 454.2,59.9 454.2,59.0 456.0,59.0 456.9,59.0 456.9,58.0 459.6,58.0 459.6,57.0 462.7,57.0 462.7,55.7 464.6,55.7 464.6,54.8 467.1,54.8 467.1,53.9 468.9,53.9 470.1,53.9 470.1,53.3 472.5,53.3 472.5,52.6 474.9,52.6 474.9,51.7 476.2,51.7 477.0,51.7 477.0,50.7 479.2,50.7 479.2,50.0 482.2,50.0 482.2,49.3 485.0,49.3 485.0,48.1 486.4,48.1 487.6,48.1 487.6,47.8 489.8,47.8 489.8,47.4 491.8,47.4 491.8,47.1 494.1,47.1 494.1,46.9 496.8,46.9 496.8,46.6 498.1,46.6 498.6,46.6 498.6,46.2 500.6,46.2 500.6,45.8 503.4,45.8 503.4,45.4 506.2,45.4 506.2,45.0 508.7,45.0 508.7,44.7 511.4,44.7 511.4,44.4 512.7,44.4 513.9,44.4 513.9,44.1 516.2,44.1 516.2,43.8 518.6,43.8 518.6,43.4 521.0,43.4 521.0,43.0 522.0,43.0 522.7,43.0 522.7,42.8 524.8,42.8 524.8,42.6 527.2,42.6 527.2,42.2 529.7,42.2 529.7,42.1 532.3,42.1 532.3,41.8 535.6,41.8 535.6,41.5 539.6,41.5 539.6,41.2 542.4,41.2 542.4,41.0 544.4,41.0 544.4,40.8 546.7,40.8 546.7,40.5 548.6,40.5 548.6,40.2 549.2,40.2 550.0,40.2 550.0,40.0 551.5,40.0 551.5,39.7 554.0,39.7 554.0,39.4 557.0,39.4 557.0,39.1 560.1,39.1 560.1,38.8 563.2,38.8 563.2,38.4 565.8,38.4 565.8,38.2 567.8,38.2 567.8,37.9 570.3,37.9 570.3,37.8 573.7,37.8 573.7,37.6 576.0,37.6 576.0,37.2 577.6,37.2 577.6,36.7 578.5,36.7 579.2,36.7 579.2,36.5 581.4,36.5 581.4,36.4 583.6,36.4 583.6,36.2 585.3,36.2 585.3,36.1 587.8,36.1 587.8,35.9 590.3,35.9 590.3,35.8 592.1,35.8 592.1,35.6 594.4,35.6 594.4,35.5 598.2,35.5 598.2,35.4 601.5,35.4 601.5,35.3 604.7,35.3 604.7,35.2 607.5,35.2 607.5,35.0 608.4,35.0 609.0,35.0 609.0,34.9 611.2,34.9 611.2,34.9 613.6,34.9 613.6,34.7 615.9,34.7 615.9,34.7 618.6,34.7 618.6,34.5 621.4,34.5 621.4,34.5 624.0,34.5 624.0,34.3 626.0,34.3 626.0,34.1 628.4,34.1 628.4,34.0 630.6,34.0 630.6,33.9 631.8,33.9 668.1,34.0" fill="none" stroke="#7b2d80" stroke-width="1.8" stroke-linejoin="round"/>
<polyline points="398.1,221.0 398.2,221.0 398.2,219.7 398.4,219.7 398.4,216.1 398.6,216.1 398.6,214.7 398.7,214.7 398.7,212.0 398.8,212.0 398.8,210.7 398.9,210.7 398.9,207.5 398.9,207.5 398.9,205.0 399.0,205.0 399.1,205.0 399.1,203.7 399.3,203.7 399.3,200.6 399.5,200.6 399.5,199.2 399.7,199.2 399.7,195.9 399.9,195.9 399.9,192.8 400.0,192.8 400.0,190.9 400.2,190.9 400.2,187.6 400.4,187.6 400.4,184.9 400.6,184.9 400.6,183.1 400.9,183.1 400.9,180.0 401.0,180.0 401.1,180.0 401.1,177.8 401.3,177.8 401.3,174.9 401.6,174.9 401.6,172.0 401.7,172.0 401.8,172.0 401.8,169.6 402.1,169.6 402.1,166.6 402.3,166.6 402.3,163.4 402.7,163.4 402.7,160.8 403.0,160.8 403.0,158.9 403.2,158.9 403.6,158.9 403.6,157.4 404.3,157.4 404.3,154.2 404.9,154.2 404.9,150.8 405.7,150.8 405.7,148.6 406.1,148.6 406.5,148.6 406.5,146.7 407.6,146.7 407.6,142.8 408.7,142.8 408.7,141.3 409.0,141.3 409.3,141.3 409.3,138.7 409.7,138.7 409.7,137.3 409.9,137.3 409.9,135.0 410.0,135.0 410.3,135.0 410.3,133.2 410.9,133.2 410.9,130.3 411.4,130.3 411.4,128.2 411.7,128.2 411.7,125.9 412.2,125.9 412.2,123.4 412.5,123.4 413.0,123.4 413.0,120.3 413.7,120.3 413.7,117.5 414.0,117.5 414.6,117.5 414.6,114.1 415.8,114.1 415.8,112.3 416.6,112.3 416.6,109.5 416.9,109.5 417.5,109.5 417.5,107.1 419.7,107.1 419.7,105.1 421.3,105.1 421.8,105.1 421.8,102.3 422.9,102.3 422.9,100.8 424.2,100.8 424.2,97.4 424.9,97.4 425.2,97.4 425.2,96.2 426.4,96.2 426.4,93.1 428.3,93.1 428.3,90.1 429.2,90.1 429.8,90.1 429.8,87.0 431.3,87.0 431.3,84.8 433.7,84.8 433.7,83.5 435.1,83.5 435.7,83.5 435.7,81.6 437.6,81.6 437.6,79.6 440.7,79.6 440.7,78.4 442.4,78.4 443.6,78.4 443.6,77.4 445.5,77.4 445.5,76.0 448.0,76.0 448.0,74.0 449.7,74.0 451.0,74.0 451.0,73.0 453.8,73.0 453.8,71.7 456.1,71.7 456.1,71.0 457.8,71.0 457.8,70.0 458.6,70.0 459.7,70.0 459.7,68.6 462.6,68.6 462.6,66.4 464.5,66.4 465.1,66.4 465.1,62.9 466.6,62.9 466.6,61.5 468.1,61.5 468.1,59.0 468.9,59.0 469.8,59.0 469.8,57.0 472.0,57.0 472.0,54.8 474.8,54.8 474.8,53.2 476.2,53.2 477.3,53.2 477.3,51.8 479.6,51.8 479.6,50.8 482.1,50.8 482.1,50.3 483.5,50.3 484.3,50.3 484.3,49.6 486.1,49.6 486.1,49.0 488.7,49.0 488.7,48.3 492.5,48.3 492.5,48.0 495.7,48.0 495.7,47.7 497.5,47.7 497.5,47.4 498.1,47.4 498.8,47.4 498.8,47.0 500.1,47.0 500.1,46.6 502.1,46.6 502.1,46.2 504.7,46.2 504.7,45.6 507.6,45.6 507.6,45.4 511.0,45.4 511.0,45.2 512.7,45.2 522.0,45.0 523.5,45.0 523.5,44.5 526.7,44.5 526.7,44.3 529.2,44.3 529.2,43.8 531.7,43.8 531.7,43.4 534.1,43.4 534.1,43.0 536.5,43.0 536.5,42.9 539.1,42.9 539.1,42.6 541.4,42.6 541.4,42.1 544.3,42.1 544.3,41.9 546.3,41.9 546.3,41.7 548.0,41.7 548.0,41.5 549.2,41.5 550.4,41.5 550.4,41.3 553.1,41.3 553.1,40.9 556.0,40.9 556.0,40.6 558.8,40.6 558.8,40.3 561.7,40.3 561.7,39.9 563.8,39.9 563.8,39.5 565.8,39.5 565.8,39.2 568.2,39.2 568.2,38.8 569.7,38.8 569.7,38.5 571.7,38.5 571.7,38.4 574.7,38.4 574.7,38.3 577.4,38.3 577.4,38.0 578.5,38.0 580.1,38.0 580.1,37.8 582.7,37.8 582.7,37.6 585.1,37.6 585.1,37.4 587.5,37.4 587.5,37.2 590.0,37.2 590.0,37.1 593.2,37.1 593.2,36.9 595.5,36.9 595.5,36.7 597.2,36.7 597.2,36.5 599.3,36.5 599.3,36.4 601.6,36.4 601.6,36.3 604.5,36.3 604.5,36.1 607.2,36.1 607.2,36.0 608.4,36.0 609.9,36.0 609.9,35.9 613.0,35.9 613.0,35.7 615.6,35.7 615.6,35.5 618.2,35.5 618.2,35.3 620.8,35.3 620.8,35.2 623.2,35.2 623.2,35.2 625.2,35.2 625.2,35.1 626.6,35.1 626.6,34.9 628.7,34.9 628.7,34.8 630.9,34.8 630.9,34.6 631.8,34.6 633.5,34.6 633.5,34.6 636.1,34.6 636.1,34.5 638.5,34.5 638.5,34.5 641.8,34.5 641.8,34.4 644.9,34.4 644.9,34.4 646.8,34.4 646.8,34.4 648.6,34.4 648.6,34.3 651.4,34.3 651.4,34.3 654.1,34.3 654.1,34.3 656.9,34.3 656.9,34.2 660.1,34.2 660.1,34.2 662.4,34.2 662.4,34.1 664.2,34.1 664.2,34.1 665.9,34.1 665.9,34.0 667.3,34.0 667.3,34.0 668.1,34.0" fill="none" stroke="#5a6fa8" stroke-width="1.8" stroke-linejoin="round"/>
<polyline points="398.1,221.0 398.2,221.0 398.2,217.6 398.4,217.6 398.4,216.2 398.6,216.2 398.6,215.1 398.8,215.1 398.8,212.7 398.9,212.7 398.9,209.0 399.1,209.0 399.1,206.8 399.4,206.8 399.4,205.0 399.5,205.0 399.6,205.0 399.6,203.4 399.8,203.4 399.8,199.7 400.2,199.7 400.2,197.0 400.4,197.0 400.4,195.1 400.7,195.1 400.7,192.7 401.0,192.7 401.0,190.8 401.2,190.8 401.2,189.0 401.4,189.0 401.4,185.0 401.5,185.0 401.6,185.0 401.6,183.8 401.9,183.8 401.9,180.0 402.1,180.0 402.1,177.7 402.2,177.7 402.2,176.2 402.4,176.2 402.4,173.4 402.6,173.4 402.6,170.9 402.8,170.9 402.8,167.5 402.9,167.5 402.9,166.1 403.1,166.1 403.1,163.2 403.2,163.2 403.4,163.2 403.4,160.4 403.9,160.4 403.9,157.2 404.3,157.2 404.3,154.3 404.5,154.3 404.5,153.0 404.6,153.0 405.0,153.0 405.0,152.0 405.8,152.0 405.8,150.8 406.4,150.8 406.4,147.4 407.1,147.4 407.1,144.2 407.5,144.2 408.7,144.2 408.7,140.6 410.7,140.6 410.7,138.5 411.5,138.5 411.8,138.5 411.8,135.5 412.6,135.5 412.6,132.4 413.6,132.4 413.6,131.4 414.0,131.4 416.3,131.4 416.3,129.5 419.2,129.5 419.2,126.3 419.9,126.3 420.2,126.3 420.2,123.8 421.3,123.8 421.3,122.8 422.4,122.8 422.4,121.1 423.5,121.1 423.5,117.5 424.2,117.5 424.9,117.5 424.9,114.1 426.0,114.1 426.0,111.7 426.4,111.7 427.5,111.7 427.5,109.2 429.4,109.2 429.4,105.8 430.1,105.8 432.2,104.0 433.2,104.0 433.2,101.1 435.1,101.1 435.1,100.0 435.9,100.0 438.0,97.4 439.6,97.4 439.6,95.0 442.5,95.0 442.5,93.6 443.8,93.6 444.4,93.6 444.4,91.8 446.3,91.8 446.3,90.2 447.7,90.2 449.0,90.2 449.0,89.4 451.9,89.4 451.9,88.6 453.5,88.6 454.0,88.6 454.0,87.5 456.1,87.5 456.1,87.0 458.7,87.0 458.7,86.0 459.6,86.0 460.7,86.0 460.7,83.4 462.2,83.4 462.2,81.4 462.7,81.4 463.6,81.4 463.6,80.5 465.8,80.5 465.8,79.8 468.8,79.8 468.8,79.1 470.4,79.1 470.8,79.1 470.8,77.2 472.4,77.2 472.4,75.2 473.5,75.2 474.1,75.2 474.1,74.7 475.7,74.7 475.7,74.1 478.2,74.1 478.2,73.3 479.6,73.3 481.0,73.3 481.0,72.7 483.1,72.7 483.1,71.8 484.9,71.8 484.9,70.6 485.8,70.6 486.4,70.6 486.4,69.8 488.3,69.8 488.3,67.5 489.6,67.5 490.9,67.5 490.9,67.2 493.7,67.2 493.7,66.8 495.2,66.8 496.9,66.8 496.9,65.8 500.1,65.8 500.1,64.4 502.6,64.4 502.6,63.1 504.6,63.1 504.6,62.7 505.4,62.7 506.0,62.7 506.0,60.8 508.1,60.8 508.1,59.5 511.2,59.5 511.2,58.3 512.7,58.3 513.7,58.3 513.7,57.0 515.8,57.0 515.8,56.3 518.5,56.3 518.5,54.9 521.0,54.9 521.0,54.5 522.0,54.5 523.0,54.5 523.0,54.0 524.7,54.0 524.7,53.6 527.2,53.6 527.2,52.8 530.2,52.8 530.2,52.1 533.0,52.1 533.0,51.9 534.6,51.9 535.9,51.9 535.9,51.1 538.0,51.1 538.0,50.7 539.9,50.7 539.9,49.9 542.6,49.9 542.6,49.2 545.4,49.2 545.4,48.7 547.9,48.7 547.9,48.3 549.2,48.3 550.6,48.3 550.6,47.8 553.4,47.8 553.4,47.6 555.8,47.6 555.8,46.9 558.2,46.9 558.2,46.2 560.7,46.2 560.7,45.6 562.8,45.6 562.8,45.4 563.9,45.4 565.1,45.4 565.1,45.1 567.8,45.1 567.8,44.8 570.3,44.8 570.3,44.4 571.7,44.4 571.7,43.9 573.9,43.9 573.9,43.8 577.1,43.8 577.1,43.2 578.5,43.2 579.7,43.2 579.7,42.8 581.7,42.8 581.7,42.4 584.3,42.4 584.3,41.9 587.5,41.9 587.5,41.7 590.0,41.7 590.0,41.3 592.0,41.3 592.0,41.0 593.0,41.0 594.6,41.0 594.6,40.9 597.1,40.9 597.1,40.8 598.8,40.8 598.8,40.6 601.3,40.6 601.3,40.3 603.7,40.3 603.7,40.1 605.8,40.1 605.8,40.0 607.0,40.0 608.1,40.0 608.1,38.9 610.2,38.9 610.2,38.2 611.3,38.2 612.8,38.2 612.8,37.9 615.2,37.9 615.2,37.8 617.7,37.8 617.7,37.5 620.7,37.5 620.7,37.3 622.9,37.3 622.9,37.2 625.0,37.2 625.0,37.0 627.5,37.0 627.5,36.8 628.9,36.8 630.2,36.8 630.2,36.6 632.6,36.6 632.6,36.2 634.9,36.2 634.9,36.1 637.7,36.1 637.7,35.8 640.2,35.8 640.2,35.4 642.3,35.4 642.3,35.3 643.5,35.3 644.1,35.3 644.1,35.1 645.6,35.1 645.6,35.0 648.2,35.0 648.2,34.9 650.5,34.9 650.5,34.7 652.3,34.7 652.3,34.6 654.8,34.6 654.8,34.5 657.7,34.5 657.7,34.4 660.6,34.4 660.6,34.3 663.2,34.3 663.2,34.2 666.4,34.2 666.4,34.0 668.1,34.0" fill="none" stroke="#2b97ae" stroke-width="1.8" stroke-linejoin="round"/>
<polyline points="398.1,221.0 398.2,221.0 398.2,217.6 398.4,217.6 398.4,216.2 398.6,216.2 398.6,215.1 398.8,215.1 398.8,212.7 398.9,212.7 398.9,209.0 399.1,209.0 399.1,206.8 399.4,206.8 399.4,205.0 399.5,205.0 399.6,205.0 399.6,203.3 400.1,203.3 400.1,199.4 400.6,199.4 400.6,196.5 400.9,196.5 400.9,194.5 401.4,194.5 401.4,192.0 401.9,192.0 401.9,190.0 402.0,190.0 402.2,190.0 402.2,187.6 403.0,187.6 403.0,183.5 404.1,183.5 404.1,181.8 404.7,181.8 404.7,180.0 405.0,180.0 405.1,180.0 405.1,177.6 405.4,177.6 405.4,175.6 405.6,175.6 405.6,172.7 405.8,172.7 405.8,171.5 406.0,171.5 406.0,169.1 406.1,169.1 406.9,169.1 406.9,165.5 408.4,165.5 408.4,163.2 409.0,163.2 409.5,163.2 409.5,160.4 410.5,160.4 410.5,157.2 411.2,157.2 411.2,154.3 411.7,154.3 411.7,153.0 411.9,153.0 413.0,153.0 413.0,151.0 415.2,151.0 415.2,148.6 416.3,148.6 416.9,148.6 416.9,145.6 418.6,145.6 418.6,143.1 420.1,143.1 420.1,141.3 420.7,141.3 421.8,141.3 421.8,140.4 424.0,140.4 424.0,139.8 425.1,139.8 425.7,139.8 425.7,138.3 426.9,138.3 426.9,135.0 427.5,135.0 428.6,131.4 430.3,131.4 430.3,130.6 432.5,130.6 432.5,129.2 433.0,129.2 433.7,129.2 433.7,125.6 435.9,125.6 435.9,124.1 437.4,124.1 438.3,124.1 438.3,123.0 441.2,123.0 441.2,120.5 443.2,120.5 444.1,120.5 444.1,117.0 445.6,117.0 445.6,114.6 446.2,114.6 447.1,114.6 447.1,112.8 448.5,112.8 448.5,110.2 449.1,110.2 450.3,110.2 450.3,107.6 452.5,107.6 452.5,106.6 453.5,106.6 454.0,106.6 454.0,103.8 455.6,103.8 455.6,102.2 457.5,102.2 457.5,100.0 458.5,100.0 459.6,100.0 459.6,99.0 461.8,99.0 461.8,96.7 462.9,96.7 463.9,96.7 463.9,96.2 465.5,96.2 465.5,95.5 467.8,95.5 467.8,94.8 470.6,94.8 470.6,94.5 471.6,94.5 473.2,94.5 473.2,92.7 476.1,92.7 476.1,91.3 478.5,91.3 478.5,89.4 480.6,89.4 480.6,88.5 481.5,88.5 482.6,88.5 482.6,87.0 484.7,87.0 484.7,85.2 485.8,85.2 486.6,85.2 486.6,84.4 488.5,84.4 488.5,82.5 489.6,82.5 490.8,82.5 490.8,82.0 493.5,82.0 493.5,81.8 495.0,81.8 496.2,81.8 496.2,81.0 498.7,81.0 498.7,79.9 500.1,79.9 500.8,79.9 500.8,79.5 503.2,79.5 503.2,79.1 505.7,79.1 505.7,78.9 508.2,78.9 508.2,78.3 509.6,78.3 511.0,78.3 511.0,77.3 513.0,77.3 513.0,76.1 515.3,76.1 515.3,75.2 518.4,75.2 518.4,73.9 519.9,73.9 521.0,73.9 521.0,72.8 522.7,72.8 522.7,72.0 525.0,72.0 525.0,70.2 528.4,70.2 528.4,69.0 530.1,69.0 531.2,69.0 531.2,66.1 532.7,66.1 532.7,64.4 533.0,64.4 533.9,64.4 533.9,62.6 535.5,62.6 535.5,60.7 536.1,60.7 537.1,60.7 537.1,59.9 538.9,59.9 538.9,59.5 541.5,59.5 541.5,58.3 544.6,58.3 544.6,57.3 547.5,57.3 547.5,57.0 549.2,57.0 550.6,57.0 550.6,56.2 552.6,56.2 552.6,55.8 554.5,55.8 554.5,55.0 557.3,55.0 557.3,54.3 560.1,54.3 560.1,53.8 562.6,53.8 562.6,53.4 563.9,53.4 565.3,53.4 565.3,52.7 568.1,52.7 568.1,52.5 570.4,52.5 570.4,51.6 572.9,51.6 572.9,50.7 575.4,50.7 575.4,49.9 577.4,49.9 577.4,49.7 578.5,49.7 579.7,49.7 579.7,49.2 582.4,49.2 582.4,48.7 584.9,48.7 584.9,48.0 586.3,48.0 586.3,47.3 588.5,47.3 588.5,47.0 591.7,47.0 591.7,46.1 593.1,46.1 594.3,46.1 594.3,45.5 596.3,45.5 596.3,44.7 598.9,44.7 598.9,43.9 602.1,43.9 602.1,43.6 604.6,43.6 604.6,42.8 606.7,42.8 606.7,42.4 607.7,42.4 608.4,42.4 608.4,42.1 610.9,42.1 610.9,41.8 613.7,41.8 613.7,41.4 615.6,41.4 615.6,40.6 618.3,40.6 618.3,40.2 620.1,40.2 620.6,40.2 620.6,40.0 622.8,40.0 622.8,39.8 625.6,39.8 625.6,39.4 628.5,39.4 628.5,39.2 630.9,39.2 630.9,38.9 633.5,38.9 633.5,38.6 636.6,38.6 636.6,38.3 638.8,38.3 638.8,38.1 640.9,38.1 640.9,37.7 643.6,37.7 643.6,37.5 645.0,37.5 645.9,37.5 645.9,37.3 648.0,37.3 648.0,36.8 650.8,36.8 650.8,36.7 653.2,36.7 653.2,36.3 655.4,36.3 655.4,35.9 658.4,35.9 658.4,35.7 660.8,35.7 660.8,35.3 662.7,35.3 662.7,34.9 664.7,34.9 664.7,34.5 666.9,34.5 666.9,34.0 668.1,34.0" fill="none" stroke="#6fb7ae" stroke-width="1.8" stroke-linejoin="round"/>
<polyline points="398.1,221.0 398.2,221.0 398.2,218.0 398.5,218.0 398.5,216.6 398.7,216.6 398.7,214.6 399.0,214.6 399.0,212.5 399.4,212.5 399.4,211.3 399.6,211.3 399.6,208.2 399.9,208.2 399.9,205.0 400.0,205.0 400.3,205.0 400.3,202.0 400.8,202.0 400.8,200.1 401.4,200.1 401.4,196.4 402.0,196.4 402.0,193.2 402.5,193.2 402.5,191.9 402.9,191.9 402.9,190.0 403.0,190.0 403.2,190.0 403.2,188.6 403.9,188.6 403.9,185.6 405.0,185.6 405.0,184.3 405.8,184.3 405.8,180.0 406.0,180.0 406.4,180.0 406.4,177.1 406.9,177.1 406.9,175.7 407.5,175.7 407.5,172.6 408.3,172.6 408.3,169.6 409.0,169.6 409.0,167.0 410.0,167.0 410.0,166.2 410.5,166.2 412.0,166.2 412.0,164.8 414.9,164.8 414.9,160.3 416.3,160.3 416.5,160.3 416.5,159.2 417.3,159.2 417.3,156.0 418.3,156.0 418.3,153.6 419.0,153.6 419.0,151.5 419.2,151.5 420.3,151.5 420.3,148.4 422.1,148.4 422.1,147.4 423.7,147.4 423.7,144.9 425.5,144.9 425.5,142.8 426.5,142.8 427.1,142.8 427.1,139.8 427.9,139.8 427.9,138.2 428.5,138.2 428.5,135.3 429.2,135.3 429.2,134.0 429.5,134.0 430.0,134.0 430.0,132.1 431.0,132.1 431.0,129.2 431.5,129.2 433.0,129.2 433.0,125.3 435.9,125.3 435.9,123.4 437.4,123.4 438.5,123.4 438.5,122.3 441.4,122.3 441.4,120.5 443.2,120.5 444.7,120.5 444.7,119.4 447.2,119.4 447.2,117.5 449.4,117.5 449.4,116.1 450.6,116.1 452.8,116.1 452.8,113.3 455.7,113.3 455.7,110.2 456.4,110.2 457.0,110.2 457.0,109.0 458.7,109.0 458.7,107.7 461.2,107.7 461.2,105.4 463.9,105.4 463.9,104.4 465.2,104.4 466.1,104.4 466.1,102.2 468.3,102.2 468.3,100.0 469.6,100.0 471.7,100.0 471.7,98.2 474.9,98.2 474.9,97.5 477.0,97.5 477.0,96.3 479.2,96.3 479.2,95.2 480.4,95.2 482.4,95.2 482.4,94.7 485.9,94.7 485.9,93.8 488.3,93.8 488.3,92.9 490.5,92.9 490.5,92.0 492.7,92.0 492.7,91.6 494.3,91.6 494.3,90.7 495.0,90.7 495.8,90.7 495.8,89.7 497.8,89.7 497.8,88.9 499.7,88.9 499.7,88.0 502.3,88.0 502.3,86.8 505.5,86.8 505.5,86.4 508.0,86.4 508.0,86.1 509.6,86.1 509.6,85.3 512.1,85.3 512.1,84.9 514.0,84.9 515.6,84.9 515.6,84.1 517.9,84.1 517.9,83.7 520.0,83.7 520.0,83.3 522.1,83.3 522.1,81.9 522.8,81.9 523.4,81.9 523.4,78.5 524.9,78.5 524.9,76.1 525.7,76.1 526.9,76.1 526.9,74.5 529.8,74.5 529.8,72.6 532.7,72.6 532.7,71.6 535.0,71.6 535.0,71.0 535.9,71.0 539.0,68.0 539.5,68.0 539.5,65.5 541.3,65.5 541.3,62.4 543.7,62.4 543.7,61.4 544.9,61.4 546.1,61.4 546.1,61.0 548.8,61.0 548.8,59.4 550.8,59.4 550.8,58.9 552.6,58.9 552.6,58.3 555.2,58.3 555.2,57.0 556.5,57.0 558.4,57.0 558.4,56.3 561.1,56.3 561.1,56.0 562.7,56.0 562.7,55.3 564.7,55.3 564.7,54.8 567.2,54.8 567.2,54.0 569.6,54.0 569.6,53.6 571.3,53.6 571.3,52.8 573.4,52.8 573.4,52.0 576.6,52.0 576.6,51.2 578.5,51.2 580.5,51.2 580.5,50.6 583.2,50.6 583.2,50.3 585.8,50.3 585.8,49.4 588.5,49.4 588.5,48.6 590.3,48.6 590.3,47.9 592.1,47.9 592.1,47.5 593.1,47.5 593.7,47.5 593.7,46.8 595.6,46.8 595.6,46.1 597.7,46.1 597.7,45.4 599.6,45.4 599.6,44.8 602.0,44.8 602.0,44.2 605.3,44.2 605.3,43.7 608.2,43.7 608.2,43.4 610.3,43.4 610.3,43.1 612.1,43.1 612.1,42.3 614.9,42.3 614.9,41.7 618.5,41.7 618.5,41.0 620.1,41.0 621.7,41.0 621.7,40.8 624.8,40.8 624.8,40.5 626.8,40.5 626.8,40.1 629.0,40.1 629.0,39.6 631.3,39.6 631.3,39.4 632.6,39.4 632.6,39.1 634.3,39.1 634.3,38.8 636.7,38.8 636.7,38.4 640.2,38.4 640.2,38.0 643.6,38.0 643.6,37.5 645.0,37.5 645.9,37.5 645.9,37.1 648.6,37.1 648.6,36.6 651.6,36.6 651.6,36.3 654.2,36.3 654.2,36.1 656.3,36.1 656.3,35.7 657.7,35.7 657.7,35.2 658.6,35.2 658.6,35.1 660.8,35.1 660.8,34.8 663.8,34.8 663.8,34.5 666.7,34.5 666.7,34.0 668.1,34.0" fill="none" stroke="#a6cbb8" stroke-width="1.8" stroke-linejoin="round"/>
<polyline points="398.1,221.0 398.2,221.0 398.2,218.0 398.5,218.0 398.5,216.6 398.7,216.6 398.7,214.6 399.0,214.6 399.0,212.5 399.4,212.5 399.4,211.3 399.6,211.3 399.6,208.2 399.9,208.2 399.9,205.0 400.0,205.0 400.2,205.0 400.2,202.0 400.7,202.0 400.7,200.1 401.1,200.1 401.1,196.4 401.7,196.4 401.7,193.2 402.1,193.2 402.1,191.9 402.4,191.9 402.4,190.0 402.5,190.0 402.7,190.0 402.7,188.6 403.3,188.6 403.3,185.6 404.1,185.6 404.1,184.3 404.8,184.3 404.8,180.0 405.0,180.0 405.1,180.0 405.1,177.2 405.4,177.2 405.4,175.9 405.8,175.9 405.8,172.9 406.1,172.9 406.1,170.1 406.6,170.1 406.6,167.6 406.8,167.6 407.2,167.6 407.2,165.3 407.8,165.3 407.8,161.6 408.1,161.6 408.1,160.3 408.3,160.3 409.3,160.3 409.3,158.8 411.1,158.8 411.1,154.5 411.9,154.5 412.7,154.5 412.7,153.7 415.7,153.7 415.7,151.9 418.5,151.9 418.5,150.1 419.2,150.1 420.4,150.1 420.4,148.1 423.1,148.1 423.1,146.4 426.1,146.4 426.1,144.3 428.6,144.3 428.6,142.8 429.5,142.8 429.8,142.8 429.8,140.2 430.4,140.2 430.4,139.0 431.2,139.0 431.2,136.0 431.5,136.0 432.2,136.0 432.2,133.9 433.7,133.9 433.7,130.7 434.5,130.7 435.6,130.7 435.6,128.2 437.8,128.2 437.8,127.0 438.9,127.0 440.4,127.0 440.4,126.2 442.7,126.2 442.7,125.0 444.9,125.0 444.9,124.1 446.2,124.1 447.5,124.1 447.5,122.6 450.0,122.6 450.0,120.5 452.3,120.5 452.3,119.0 453.5,119.0 454.5,119.0 454.5,116.6 457.4,116.6 457.4,115.7 460.0,115.7 460.0,114.6 460.8,114.6 461.5,114.6 461.5,112.7 463.0,112.7 463.0,108.8 463.7,108.8 464.9,108.8 464.9,107.7 467.9,107.7 467.9,106.6 469.6,106.6 470.6,106.6 470.6,105.9 472.7,105.9 472.7,105.7 474.8,105.7 474.8,105.2 477.0,105.2 477.0,104.8 479.9,104.8 479.9,104.0 481.9,104.0 483.3,100.4 484.1,100.4 484.1,98.9 487.1,98.9 487.1,97.4 489.2,97.4 490.1,97.4 490.1,94.1 492.3,94.1 492.3,91.6 493.6,91.6 494.5,91.6 494.5,90.7 496.5,90.7 496.5,90.0 498.8,90.0 498.8,88.0 500.1,88.0 500.9,88.0 500.9,87.1 503.0,87.1 503.0,86.2 505.1,86.2 505.1,84.3 507.8,84.3 507.8,83.4 509.6,83.4 510.1,83.4 510.1,81.6 512.6,81.6 512.6,80.4 516.2,80.4 516.2,79.7 518.7,79.7 518.7,77.3 521.1,77.3 521.1,76.1 523.4,76.1 523.4,75.4 524.2,75.4 525.0,75.4 525.0,74.8 526.4,74.8 526.4,74.4 528.5,74.4 528.5,73.7 531.7,73.7 531.7,72.9 535.2,72.9 535.2,72.4 537.8,72.4 537.8,71.7 538.9,71.7 540.4,71.7 540.4,70.7 543.2,70.7 543.2,69.5 545.0,69.5 545.0,69.2 547.3,69.2 547.3,68.8 549.1,68.8 550.3,68.8 550.3,65.8 552.5,65.8 552.5,62.9 553.5,62.9 554.6,62.9 554.6,60.7 556.8,60.7 556.8,60.0 557.9,60.0 559.5,60.0 559.5,58.1 562.5,58.1 562.5,57.0 563.9,57.0 564.8,57.0 564.8,56.4 566.8,56.4 566.8,56.0 569.3,56.0 569.3,55.4 572.5,55.4 572.5,54.7 575.5,54.7 575.5,54.1 577.6,54.1 577.6,53.4 578.5,53.4 580.0,53.4 580.0,52.6 582.3,52.6 582.3,51.4 584.9,51.4 584.9,50.7 587.4,50.7 587.4,50.4 589.8,50.4 589.8,49.2 592.2,49.2 592.2,48.3 593.1,48.3 594.4,48.3 594.4,48.0 597.0,48.0 597.0,47.5 598.9,47.5 598.9,46.6 600.5,46.6 600.5,45.6 603.0,45.6 603.0,44.7 606.3,44.7 606.3,43.9 607.7,43.9 609.1,43.9 609.1,42.9 612.4,42.9 612.4,42.6 615.4,42.6 615.4,42.0 617.6,42.0 617.6,41.5 619.5,41.5 619.5,41.0 620.1,41.0 621.6,41.0 621.6,40.4 624.7,40.4 624.7,40.0 628.0,40.0 628.0,39.8 631.2,39.8 631.2,39.5 633.3,39.5 633.3,39.1 635.6,39.1 635.6,38.6 638.0,38.6 638.0,38.4 639.2,38.4 639.2,38.1 641.0,38.1 641.0,37.9 643.5,37.9 643.5,37.5 645.0,37.5 646.1,37.5 646.1,37.0 648.9,37.0 648.9,36.7 651.5,36.7 651.5,36.3 654.2,36.3 654.2,35.8 657.2,35.8 657.2,35.5 659.8,35.5 659.8,35.2 662.0,35.2 662.0,34.9 663.3,34.9 663.3,34.4 664.3,34.4 664.3,34.2 666.4,34.2 666.4,34.0 668.1,34.0" fill="none" stroke="#f0b070" stroke-width="1.8" stroke-linejoin="round"/>
<polyline points="398.1,221.0 398.2,221.0 398.2,217.9 398.4,217.9 398.4,216.6 398.6,216.6 398.6,215.6 398.7,215.6 398.7,213.3 398.9,213.3 398.9,210.0 399.0,210.0 399.4,210.0 399.4,208.1 400.0,208.1 400.0,206.5 400.5,206.5 400.5,203.2 400.9,203.2 400.9,199.5 401.3,199.5 401.3,197.2 401.5,197.2 402.0,197.2 402.0,195.4 403.8,195.4 403.8,191.4 405.0,191.4 405.8,191.4 405.8,187.7 407.8,187.7 407.8,185.5 409.1,185.5 409.3,185.5 409.3,182.7 410.2,182.7 410.2,179.7 410.9,179.7 411.2,179.7 411.2,176.8 411.7,176.8 411.7,175.0 412.0,175.0 415.5,171.5 416.2,171.5 416.2,167.8 417.5,167.8 417.5,166.3 418.7,166.3 418.7,163.2 419.2,163.2 419.6,163.2 419.6,161.0 420.3,161.0 420.3,157.6 421.0,157.6 421.0,155.7 421.8,155.7 421.8,154.5 422.2,154.5 423.7,154.5 423.7,151.5 426.0,151.5 426.0,150.1 427.4,150.1 427.4,147.2 428.0,147.2 429.5,147.2 429.5,146.2 432.3,146.2 432.3,145.0 434.4,145.0 434.4,141.6 436.8,141.6 436.8,138.4 438.2,138.4 439.8,138.4 439.8,135.7 442.4,135.7 442.4,134.0 443.5,134.0 444.8,134.0 444.8,131.3 447.4,131.3 447.4,128.5 449.0,128.5 449.0,127.6 450.0,127.6 450.0,125.6 450.6,125.6 451.5,125.6 451.5,122.6 454.1,122.6 454.1,121.7 456.7,121.7 456.7,119.8 459.1,119.8 459.1,119.0 460.8,119.0 461.3,119.0 461.3,118.5 462.9,118.5 462.9,117.4 465.3,117.4 465.3,116.1 468.5,116.1 468.5,115.2 471.4,115.2 471.4,114.6 472.5,114.6 474.2,114.6 474.2,113.2 476.9,113.2 476.9,112.6 479.2,112.6 479.2,110.4 481.7,110.4 481.7,108.8 482.7,108.8 484.9,108.8 484.9,106.8 488.1,106.8 488.1,105.0 490.1,105.0 490.1,104.0 491.0,104.0 492.4,104.0 492.4,102.3 494.4,102.3 494.4,100.0 495.0,100.0 496.1,100.0 496.1,99.0 498.1,99.0 498.1,98.5 500.3,98.5 500.3,96.8 503.3,96.8 503.3,95.8 506.6,95.8 506.6,94.1 510.2,94.1 510.2,92.9 512.5,92.9 512.5,91.2 514.5,91.2 514.5,90.4 516.8,90.4 516.8,88.9 518.8,88.9 518.8,87.8 519.9,87.8 520.8,87.8 520.8,84.5 523.0,84.5 523.0,83.4 524.2,83.4 525.0,83.4 525.0,82.7 527.7,82.7 527.7,81.8 530.5,81.8 530.5,80.4 532.7,80.4 532.7,78.8 535.2,78.8 535.2,77.9 537.5,77.9 537.5,76.8 538.9,76.8 539.4,76.8 539.4,75.6 541.8,75.6 541.8,74.1 545.0,74.1 545.0,73.1 547.7,73.1 547.7,71.5 549.7,71.5 549.7,70.2 550.6,70.2 551.1,70.2 551.1,69.2 553.1,69.2 553.1,68.6 555.9,68.6 555.9,68.0 557.3,68.0 557.9,68.0 557.9,66.9 559.8,66.9 559.8,66.2 562.5,66.2 562.5,65.1 563.9,65.1 564.5,65.1 564.5,63.9 566.8,63.9 566.8,63.1 569.8,63.1 569.8,62.2 571.2,62.2 572.6,62.2 572.6,61.5 575.0,61.5 575.0,60.2 577.2,60.2 577.2,59.2 578.5,59.2 579.3,59.2 579.3,56.8 580.8,56.8 580.8,55.6 581.4,55.6 583.0,55.6 583.0,55.0 585.9,55.0 585.9,54.6 588.5,54.6 588.5,53.8 591.0,53.8 591.0,53.4 592.7,53.4 592.7,52.7 593.1,52.7 594.2,52.7 594.2,51.5 597.1,51.5 597.1,50.3 600.1,50.3 600.1,49.3 602.5,49.3 602.5,49.0 604.7,49.0 604.7,47.9 606.7,47.9 606.7,46.8 607.7,46.8 609.3,46.8 609.3,46.0 611.8,46.0 611.8,45.2 613.2,45.2 613.2,44.9 615.5,44.9 615.5,43.9 618.6,43.9 618.6,43.2 620.1,43.2 621.6,43.2 621.6,42.8 624.0,42.8 624.0,42.2 626.1,42.2 626.1,41.7 628.1,41.7 628.1,41.5 628.9,41.5 630.5,41.5 630.5,40.6 633.0,40.6 633.0,39.8 634.5,39.8 634.5,39.2 636.8,39.2 636.8,38.7 639.2,38.7 639.2,38.3 640.9,38.3 640.9,38.0 643.4,38.0 643.4,37.5 645.0,37.5 645.5,37.5 645.5,37.3 647.5,37.3 647.5,36.9 650.1,36.9 650.1,36.5 652.8,36.5 652.8,36.2 655.0,36.2 655.0,35.8 657.4,35.8 657.4,35.5 660.3,35.5 660.3,35.0 662.4,35.0 662.4,34.8 664.3,34.8 664.3,34.3 666.8,34.3 666.8,34.0 668.1,34.0" fill="none" stroke="#88a472" stroke-width="1.8" stroke-linejoin="round"/>
<polyline points="398.1,221.0 398.2,221.0 398.2,218.0 398.5,218.0 398.5,216.6 398.7,216.6 398.7,214.6 399.0,214.6 399.0,212.5 399.4,212.5 399.4,211.3 399.6,211.3 399.6,208.2 399.9,208.2 399.9,205.0 400.0,205.0 400.3,205.0 400.3,202.0 400.8,202.0 400.8,200.1 401.4,200.1 401.4,196.4 402.0,196.4 402.0,193.2 402.5,193.2 402.5,191.9 402.9,191.9 402.9,190.0 403.0,190.0 403.3,190.0 403.3,188.6 403.7,188.6 403.7,185.6 404.1,185.6 404.1,184.3 404.7,184.3 404.7,180.0 405.2,180.0 405.2,178.9 405.5,178.9 405.5,176.3 405.8,176.3 405.8,173.2 406.0,173.2 406.0,172.0 406.1,172.0 406.4,172.0 406.4,169.5 407.8,169.5 407.8,167.3 409.3,167.3 409.3,165.1 410.1,165.1 410.1,161.8 410.5,161.8 411.0,161.8 411.0,160.7 412.5,160.7 412.5,157.5 414.5,157.5 414.5,155.1 415.9,155.1 415.9,153.0 416.3,153.0 417.5,153.0 417.5,150.9 420.1,150.9 420.1,150.2 422.6,150.2 422.6,148.6 423.6,148.6 425.3,148.6 425.3,146.9 427.7,146.9 427.7,144.8 430.4,144.8 430.4,142.6 433.1,142.6 433.1,141.3 433.9,141.3 436.3,141.3 436.3,139.1 439.4,139.1 439.4,137.3 440.8,137.3 440.8,134.5 441.5,134.5 442.3,134.5 442.3,131.0 443.9,131.0 443.9,129.2 444.7,129.2 445.9,129.2 445.9,127.4 447.8,127.4 447.8,124.6 449.5,124.6 449.5,122.7 450.6,122.7 451.6,122.7 451.6,121.3 453.6,121.3 453.6,119.5 456.4,119.5 456.4,118.2 458.7,118.2 458.7,116.8 459.3,116.8 460.0,116.8 460.0,115.5 462.0,115.5 462.0,114.0 465.0,114.0 465.0,111.4 468.1,111.4 468.1,110.3 469.6,110.3 470.2,110.3 470.2,109.0 472.1,109.0 472.1,107.7 474.2,107.7 474.2,107.0 477.1,107.0 477.1,105.9 480.0,105.9 480.0,104.5 481.0,104.5 629.0,45.5 631.8,41.9 647.6,38.5 668.1,34.0" fill="none" stroke="#bfd153" stroke-width="1.8" stroke-linejoin="round"/>
<line x1="398.1" y1="221.0" x2="668.1" y2="34.0" stroke="#d95468" stroke-width="1.1" stroke-dasharray="2.8 1.15" stroke-dashoffset="2.25"/>
<rect x="532.8" y="135.6" width="144.70000000000005" height="90.4" rx="1.6" ry="1.6" fill="#fff" fill-opacity="0.85" stroke="#dcdcdc" stroke-width="0.9"/>
<line x1="535.2" y1="141.40" x2="551.5" y2="141.40" stroke="#7b2d80" stroke-width="1.5"/>
<text x="557.3" y="144.50" font-size="9.0" fill="#222" color="#222" style="stroke-width:0.1px" textLength="112.31" lengthAdjust="spacingAndGlyphs">GSCV-XGBoost (AUC = 0.898)</text>
<line x1="535.2" y1="152.54" x2="551.5" y2="152.54" stroke="#5a6fa8" stroke-width="1.5"/>
<text x="557.3" y="155.64" font-size="9.0" fill="#222" color="#222" style="stroke-width:0.1px" textLength="116.74" lengthAdjust="spacingAndGlyphs">GSCV-LightGBM (AUC = 0.880)</text>
<line x1="535.2" y1="163.68" x2="551.5" y2="163.68" stroke="#2b97ae" stroke-width="1.5"/>
<text x="557.3" y="166.78" font-size="9.0" fill="#222" color="#222" style="stroke-width:0.1px" textLength="89.94" lengthAdjust="spacingAndGlyphs">GSCV-RF (AUC = 0.829)</text>
<line x1="535.2" y1="174.82" x2="551.5" y2="174.82" stroke="#6fb7ae" stroke-width="1.5"/>
<text x="557.3" y="177.92" font-size="9.0" fill="#222" color="#222" style="stroke-width:0.1px" textLength="89.81" lengthAdjust="spacingAndGlyphs">GSCV-LR (AUC = 0.767)</text>
<line x1="535.2" y1="185.96" x2="551.5" y2="185.96" stroke="#a6cbb8" stroke-width="1.5"/>
<text x="557.3" y="189.06" font-size="9.0" fill="#222" color="#222" style="stroke-width:0.1px" textLength="96.60" lengthAdjust="spacingAndGlyphs">GSCV-KNN (AUC = 0.742)</text>
<line x1="535.2" y1="197.10" x2="551.5" y2="197.10" stroke="#f0b070" stroke-width="1.5"/>
<text x="557.3" y="200.20" font-size="9.0" fill="#222" color="#222" style="stroke-width:0.1px" textLength="97.31" lengthAdjust="spacingAndGlyphs">GSCV-GNB (AUC = 0.738)</text>
<line x1="535.2" y1="208.24" x2="551.5" y2="208.24" stroke="#88a472" stroke-width="1.5"/>
<text x="557.3" y="211.34" font-size="9.0" fill="#222" color="#222" style="stroke-width:0.1px" textLength="96.83" lengthAdjust="spacingAndGlyphs">GSCV-SVM (AUC = 0.707)</text>
<line x1="535.2" y1="219.38" x2="551.5" y2="219.38" stroke="#bfd153" stroke-width="1.5"/>
<text x="557.3" y="222.48" font-size="9.0" fill="#222" color="#222" style="stroke-width:0.1px" textLength="90.78" lengthAdjust="spacingAndGlyphs">GSCV-DT (AUC = 0.706)</text>
<rect x="384.6" y="24.5" width="297.0" height="206.0" fill="none" stroke="#505050" stroke-width="1.2"/>
<line x1="398.10" y1="230.5" x2="398.10" y2="233.2" stroke="#505050" stroke-width="0.9"/>
<line x1="384.6" y1="221.00" x2="381.90000000000003" y2="221.00" stroke="#505050" stroke-width="0.9"/>
<text x="398.10" y="243.6" font-size="10.7" fill="#262626" color="#262626" text-anchor="middle" textLength="16.06" lengthAdjust="spacingAndGlyphs">0.0</text>
<text x="379.00" y="225.40" font-size="10.7" fill="#262626" color="#262626" text-anchor="end" textLength="16.06" lengthAdjust="spacingAndGlyphs">0.0</text>
<line x1="452.10" y1="230.5" x2="452.10" y2="233.2" stroke="#505050" stroke-width="0.9"/>
<line x1="384.6" y1="183.60" x2="381.90000000000003" y2="183.60" stroke="#505050" stroke-width="0.9"/>
<text x="452.10" y="243.6" font-size="10.7" fill="#262626" color="#262626" text-anchor="middle" textLength="16.06" lengthAdjust="spacingAndGlyphs">0.2</text>
<text x="379.00" y="188.00" font-size="10.7" fill="#262626" color="#262626" text-anchor="end" textLength="16.06" lengthAdjust="spacingAndGlyphs">0.2</text>
<line x1="506.10" y1="230.5" x2="506.10" y2="233.2" stroke="#505050" stroke-width="0.9"/>
<line x1="384.6" y1="146.20" x2="381.90000000000003" y2="146.20" stroke="#505050" stroke-width="0.9"/>
<text x="506.10" y="243.6" font-size="10.7" fill="#262626" color="#262626" text-anchor="middle" textLength="16.06" lengthAdjust="spacingAndGlyphs">0.4</text>
<text x="379.00" y="150.60" font-size="10.7" fill="#262626" color="#262626" text-anchor="end" textLength="16.06" lengthAdjust="spacingAndGlyphs">0.4</text>
<line x1="560.10" y1="230.5" x2="560.10" y2="233.2" stroke="#505050" stroke-width="0.9"/>
<line x1="384.6" y1="108.80" x2="381.90000000000003" y2="108.80" stroke="#505050" stroke-width="0.9"/>
<text x="560.10" y="243.6" font-size="10.7" fill="#262626" color="#262626" text-anchor="middle" textLength="16.06" lengthAdjust="spacingAndGlyphs">0.6</text>
<text x="379.00" y="113.20" font-size="10.7" fill="#262626" color="#262626" text-anchor="end" textLength="16.06" lengthAdjust="spacingAndGlyphs">0.6</text>
<line x1="614.10" y1="230.5" x2="614.10" y2="233.2" stroke="#505050" stroke-width="0.9"/>
<line x1="384.6" y1="71.40" x2="381.90000000000003" y2="71.40" stroke="#505050" stroke-width="0.9"/>
<text x="614.10" y="243.6" font-size="10.7" fill="#262626" color="#262626" text-anchor="middle" textLength="16.06" lengthAdjust="spacingAndGlyphs">0.8</text>
<text x="379.00" y="75.80" font-size="10.7" fill="#262626" color="#262626" text-anchor="end" textLength="16.06" lengthAdjust="spacingAndGlyphs">0.8</text>
<line x1="668.10" y1="230.5" x2="668.10" y2="233.2" stroke="#505050" stroke-width="0.9"/>
<line x1="384.6" y1="34.00" x2="381.90000000000003" y2="34.00" stroke="#505050" stroke-width="0.9"/>
<text x="668.10" y="243.6" font-size="10.7" fill="#262626" color="#262626" text-anchor="middle" textLength="16.06" lengthAdjust="spacingAndGlyphs">1.0</text>
<text x="379.00" y="38.40" font-size="10.7" fill="#262626" color="#262626" text-anchor="end" textLength="16.06" lengthAdjust="spacingAndGlyphs">1.0</text>
<text x="533.10" y="257.0" font-size="11.1" fill="#262626" color="#262626" text-anchor="middle" textLength="97.59" lengthAdjust="spacingAndGlyphs">False Positive Rate</text>
<text transform="translate(357.00,127.50) rotate(-90)" x="0" y="0" font-size="11.1" fill="#262626" color="#262626" text-anchor="middle" textLength="93.53" lengthAdjust="spacingAndGlyphs">True Positive Rate</text>
<text x="357.8" y="14.1" font-size="16.5" font-weight="bold" fill="#1a1a1a" color="#1a1a1a" textLength="19.2" lengthAdjust="spacingAndGlyphs">(b)</text>
</svg></body></html>
